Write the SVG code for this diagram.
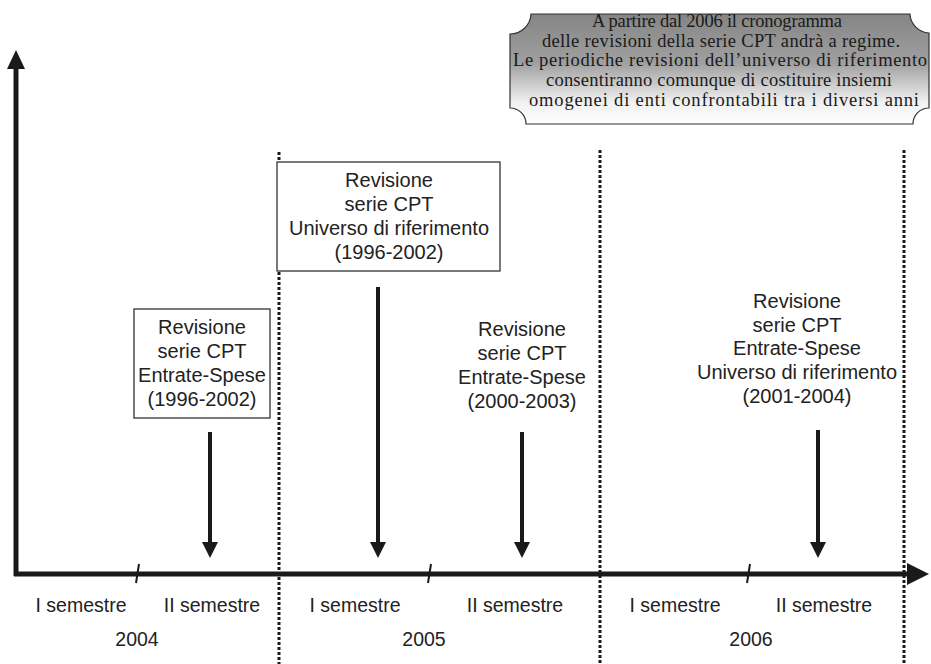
<svg xmlns="http://www.w3.org/2000/svg" width="931" height="664" viewBox="0 0 931 664">
<defs>
<linearGradient id="bg" x1="0" y1="0" x2="0" y2="1">
<stop offset="0" stop-color="#858585"/>
<stop offset="0.45" stop-color="#a0a0a0"/>
<stop offset="0.8" stop-color="#f0f0f0"/>
<stop offset="1" stop-color="#ffffff"/>
</linearGradient>
</defs>
<style>
.lbl{font-family:"Liberation Sans","DejaVu Sans",sans-serif;font-size:20px;fill:#222;text-anchor:middle}
.ax{font-family:"Liberation Sans","DejaVu Sans",sans-serif;font-size:19.5px;fill:#222;text-anchor:middle}
.ban{font-family:"Liberation Serif","Times New Roman",serif;font-size:18.5px;fill:#1a1a1a;text-anchor:middle}
.axis{stroke:#1a1a1a;stroke-width:5;fill:none}
.div{stroke:#1a1a1a;stroke-width:3;stroke-dasharray:3 2;fill:none}
.arr{stroke:#1a1a1a;stroke-width:4;fill:none}
.head{fill:#1a1a1a}
.box{fill:#fff;stroke:#333;stroke-width:1.3}
</style>

<g id="dividers">
<line class="div" x1="279" y1="152" x2="279" y2="664"/>
<line class="div" x1="600" y1="150" x2="600" y2="664"/>
<line class="div" x1="904" y1="150" x2="904" y2="664"/>
</g>

<g id="axes">
<line class="axis" x1="16" y1="576" x2="16" y2="66"/>
<polygon class="head" points="7,69 25,69 16,50"/>
<line class="axis" x1="14" y1="574" x2="910" y2="574"/>
<polygon class="head" points="907,563 907,585 929,574"/>
<line x1="136" y1="583" x2="139" y2="564" stroke="#1a1a1a" stroke-width="2"/>
<line x1="428" y1="583" x2="431" y2="564" stroke="#1a1a1a" stroke-width="2"/>
<line x1="747" y1="583" x2="750" y2="564" stroke="#1a1a1a" stroke-width="2"/>
</g>

<g id="connectors">
<line class="arr" x1="210" y1="432" x2="210" y2="545"/>
<polygon class="head" points="202,542 218,542 210,558"/>
<line class="arr" x1="378" y1="287" x2="378" y2="545"/>
<polygon class="head" points="370,542 386,542 378,558"/>
<line class="arr" x1="522" y1="432" x2="522" y2="545"/>
<polygon class="head" points="514,542 530,542 522,558"/>
<line class="arr" x1="818" y1="430" x2="818" y2="545"/>
<polygon class="head" points="810,542 826,542 818,558"/>
</g>

<g id="node-rev1">
<rect class="box" x="134" y="309" width="136" height="109"/>
<text class="lbl" x="202" y="334">Revisione</text>
<text class="lbl" x="202" y="358">serie CPT</text>
<text class="lbl" x="202" y="382">Entrate-Spese</text>
<text class="lbl" x="202" y="406">(1996-2002)</text>
</g>

<g id="node-rev2">
<rect class="box" x="277" y="162" width="223" height="109"/>
<text class="lbl" x="389" y="187">Revisione</text>
<text class="lbl" x="389" y="211">serie CPT</text>
<text class="lbl" x="389" y="235">Universo di riferimento</text>
<text class="lbl" x="389" y="259">(1996-2002)</text>
</g>

<g id="node-rev3">
<text class="lbl" x="522" y="336">Revisione</text>
<text class="lbl" x="522" y="360">serie CPT</text>
<text class="lbl" x="522" y="384">Entrate-Spese</text>
<text class="lbl" x="522" y="408">(2000-2003)</text>
</g>

<g id="node-rev4">
<text class="lbl" x="797" y="308">Revisione</text>
<text class="lbl" x="797" y="332">serie CPT</text>
<text class="lbl" x="797" y="355">Entrate-Spese</text>
<text class="lbl" x="797" y="379">Universo di riferimento</text>
<text class="lbl" x="797" y="403">(2001-2004)</text>
</g>

<g id="node-banner">
<path d="M531,14 L910,14 A20,20 0 0 0 929,33 L929,108 A16,16 0 0 0 913,124 L526,124 A16,16 0 0 0 510,108 L510,34 A21,21 0 0 0 531,14 Z" fill="url(#bg)" stroke="#333" stroke-width="1.2"/>
<text class="ban" x="717" y="27" textLength="250" lengthAdjust="spacing">A partire dal 2006 il cronogramma</text>
<text class="ban" x="721" y="47" textLength="358" lengthAdjust="spacing">delle revisioni della serie CPT andrà  a regime.</text>
<text class="ban" x="720" y="66" textLength="414" lengthAdjust="spacing">Le periodiche revisioni  dell’universo di riferimento</text>
<text class="ban" x="719" y="86" textLength="346" lengthAdjust="spacing">consentiranno comunque di costituire insiemi</text>
<text class="ban" x="724" y="106" textLength="390" lengthAdjust="spacing">omogenei di enti  confrontabili tra i diversi anni</text>
</g>

<g id="axis-labels">
<text class="ax" x="81" y="612">I semestre</text>
<text class="ax" x="212" y="612">II semestre</text>
<text class="ax" x="355" y="612">I semestre</text>
<text class="ax" x="515" y="612">II semestre</text>
<text class="ax" x="675" y="612">I semestre</text>
<text class="ax" x="824" y="612">II semestre</text>
<text class="ax" x="137" y="646">2004</text>
<text class="ax" x="424" y="646">2005</text>
<text class="ax" x="751" y="646">2006</text>
</g>
</svg>
